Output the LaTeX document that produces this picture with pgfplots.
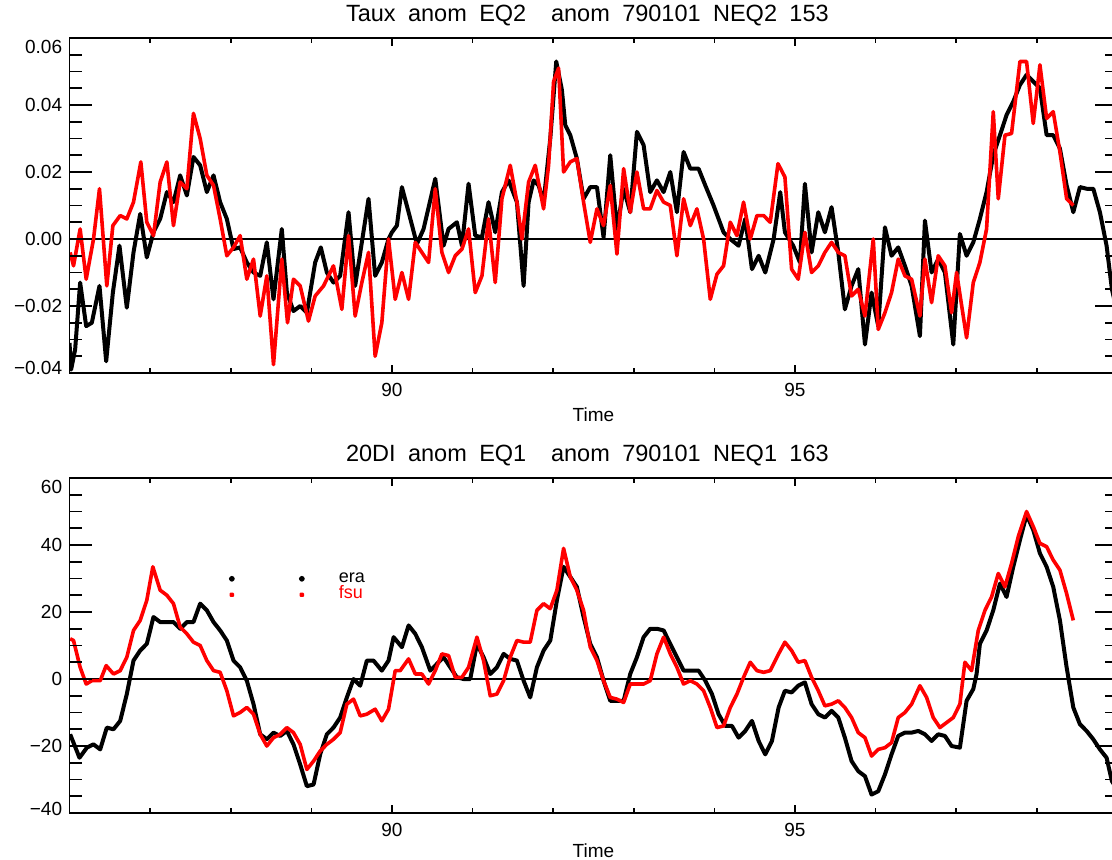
\documentclass[border=0pt]{standalone}
\usepackage{fontspec}
\setmainfont{Liberation Sans}
\newfontfamily\titlefont[WordSpace=1.9]{Liberation Sans}
\usepackage{pgfplots}
\pgfplotsset{compat=1.18}
\newcommand\tickfont{\fontsize{9.5}{11}\selectfont}
\pgfplotsset{
 base/.style={scale only axis, width=523.9pt, height=167.5pt, xmin=86, xmax=99,
   anchor=south west, tick align=inside, axis line style={line width=0.8pt},
   scaled ticks=false, scaled y ticks=false,
   tick style={black, line width=0.8pt}},
 xaxis/.style={base, ytick=\empty, xtick={90,95}, xticklabels={90,95},
   minor xtick={86,87,88,89,91,92,93,94,96,97,98},
   major tick length=4pt, minor tick length=2.5pt,
   xticklabel style={font=\tickfont, anchor=north, inner sep=0pt, yshift=-5pt},
   xlabel={Time},
   title style={font=\titlefont\fontsize{11.75}{14}\selectfont, at={(axis description cs:0.5,1)}, anchor=base, inner sep=0pt, yshift=2.5pt, xshift=-3pt}},
 yaxis/.style={base, xtick=\empty, major tick length=11pt, minor tick length=6pt,
   yticklabel style={font=\tickfont, anchor=base east, inner sep=0pt, xshift=-3.5pt, yshift=-3.4pt}},
 blk/.style={black, line width=2pt, line join=round},
 rd/.style={color=red, line width=1.8pt, line join=round},
}
\begin{document}
\begin{tikzpicture}
% ---------------- top panel ----------------
\begin{axis}[xaxis, at={(34.75pt,243pt)}, ymin=-0.04, ymax=0.06,
  xlabel style={font=\tickfont, at={(axis description cs:0.5,0)}, anchor=north, inner sep=0pt, yshift=-17pt},
  title={Taux anom EQ2\ \ anom 790101 NEQ2 153}]
\addplot[black, line width=0.8pt, forget plot] coordinates {(86,0) (99,0)};
\addplot[blk] coordinates {
(86.000,-0.031)(86.020,-0.039)(86.070,-0.033)(86.132,-0.013)(86.207,-0.026)(86.277,-0.025)(86.372,-0.014)(86.455,-0.0365)(86.538,-0.016)(86.620,-0.002)(86.711,-0.0205)(86.794,-0.004)(86.877,0.0075)(86.959,-0.0055)(87.042,0.002)(87.125,0.006)(87.208,0.014)(87.290,0.011)(87.373,0.019)(87.456,0.013)(87.538,0.0245)(87.621,0.022)(87.704,0.014)(87.787,0.019)(87.869,0.011)(87.952,0.006)(88.035,-0.003)(88.117,-0.0025)(88.200,-0.007)(88.283,-0.010)(88.366,-0.011)(88.448,-0.001)(88.531,-0.018)(88.634,0.003)(88.697,-0.016)(88.779,-0.0215)(88.862,-0.020)(88.945,-0.022)(89.048,-0.007)(89.118,-0.0025)(89.193,-0.010)(89.275,-0.013)(89.358,-0.011)(89.462,0.008)(89.544,-0.014)(89.627,-0.001)(89.710,0.012)(89.792,-0.011)(89.875,-0.007)(89.958,0.000)
(90.000,0.002)(90.062,0.004)(90.124,0.0155)(90.207,0.008)(90.310,-0.0015)(90.393,0.003)(90.538,0.018)(90.641,-0.002)(90.703,0.003)(90.806,0.005)(90.869,-0.002)(90.951,0.0165)(91.034,0.001)(91.117,0.0005)(91.199,0.011)(91.282,0.002)(91.365,0.014)(91.448,0.0175)(91.551,0.011)(91.634,-0.014)(91.696,0.011)(91.758,0.0175)(91.820,0.016)(91.882,0.011)(91.965,0.030)(92.039,0.053)(92.109,0.0445)(92.151,0.034)(92.213,0.031)(92.295,0.024)(92.378,0.012)(92.461,0.0155)(92.544,0.0155)(92.626,0.0005)(92.709,0.025)(92.792,0.003)(92.875,0.015)(92.957,0.008)(93.040,0.032)(93.123,0.028)(93.205,0.014)(93.288,0.0175)(93.371,0.014)(93.454,0.020)(93.536,0.008)(93.619,0.026)(93.702,0.021)(93.805,0.021)(93.888,0.016)(93.991,0.010)(94.115,0.002)(94.198,0.000)(94.301,-0.002)(94.384,0.006)(94.467,-0.009)(94.550,-0.005)(94.632,-0.010)(94.736,0.000)(94.818,0.014)
(94.876,0.002)(94.979,-0.002)(95.062,-0.007)(95.124,0.0165)(95.207,-0.004)(95.290,0.008)(95.372,0.002)(95.455,0.0095)(95.538,-0.004)(95.620,-0.021)(95.703,-0.014)(95.786,-0.009)(95.869,-0.0315)(95.951,-0.016)(96.034,-0.026)(96.117,0.0035)(96.199,-0.005)(96.282,-0.0025)(96.365,-0.008)(96.448,-0.014)(96.551,-0.029)(96.613,0.0055)(96.696,-0.010)(96.778,-0.006)(96.861,-0.010)(96.965,-0.0315)(97.047,0.0015)(97.130,-0.005)(97.213,-0.001)(97.295,0.006)(97.378,0.014)(97.461,0.025)(97.544,0.031)(97.626,0.037)(97.709,0.041)(97.792,0.046)(97.874,0.049)(97.957,0.047)(98.040,0.045)(98.123,0.031)(98.205,0.031)(98.288,0.027)(98.371,0.016)(98.454,0.008)(98.536,0.0155)(98.619,0.015)(98.702,0.015)(98.784,0.008)(98.867,-0.002)(98.933,-0.015)(99.000,-0.022)
};
\addplot[rd] coordinates {
(86.008,-0.004)(86.050,-0.008)(86.132,0.003)(86.207,-0.012)(86.298,0.000)(86.372,0.015)(86.463,-0.014)(86.538,0.004)(86.629,0.007)(86.711,0.006)(86.794,0.011)(86.885,0.023)(86.959,0.005)(87.042,0.001)(87.125,0.017)(87.208,0.023)(87.290,0.004)(87.373,0.017)(87.456,0.015)(87.538,0.0375)(87.621,0.030)(87.704,0.019)(87.787,0.016)(87.869,0.006)(87.952,-0.005)(88.035,-0.0025)(88.117,0.001)(88.200,-0.012)(88.283,-0.006)(88.366,-0.023)(88.448,-0.011)(88.531,-0.0375)(88.634,-0.006)(88.705,-0.025)(88.779,-0.012)(88.862,-0.014)(88.965,-0.0245)(89.048,-0.017)(89.152,-0.014)(89.275,-0.008)(89.379,-0.021)(89.462,0.001)(89.544,-0.023)(89.627,-0.013)(89.710,-0.004)(89.792,-0.035)(89.875,-0.025)(89.958,0.000)
(90.041,-0.018)(90.124,-0.010)(90.207,-0.018)(90.290,-0.001)(90.372,-0.004)(90.455,-0.007)(90.538,0.015)(90.620,-0.004)(90.703,-0.010)(90.786,-0.005)(90.869,-0.003)(90.951,0.003)(91.034,-0.016)(91.117,-0.011)(91.199,0.006)(91.282,-0.013)(91.365,0.012)(91.468,0.022)(91.551,0.011)(91.613,0.000)(91.696,0.017)(91.778,0.022)(91.882,0.009)(91.944,0.022)(92.006,0.047)(92.068,0.051)(92.130,0.020)(92.213,0.023)(92.295,0.024)(92.378,0.011)(92.461,-0.001)(92.544,0.009)(92.626,0.004)(92.709,0.016)(92.792,-0.0045)(92.875,0.021)(92.957,0.008)(93.040,0.020)(93.123,0.009)(93.205,0.009)(93.288,0.0145)(93.371,0.011)(93.454,0.010)(93.536,-0.005)(93.619,0.012)(93.702,0.004)(93.784,0.009)(93.867,0.000)(93.950,-0.018)(94.033,-0.0105)(94.115,-0.008)(94.198,0.005)(94.281,0.001)(94.363,0.011)(94.446,0.000)(94.529,0.007)(94.612,0.007)(94.694,0.005)(94.790,0.0225)
(94.876,0.0185)(94.959,-0.009)(95.041,-0.012)(95.124,0.002)(95.207,-0.010)(95.290,-0.008)(95.372,-0.004)(95.455,-0.001)(95.538,-0.004)(95.620,-0.005)(95.703,-0.017)(95.786,-0.015)(95.869,-0.023)(95.972,0.000)(96.034,-0.027)(96.117,-0.022)(96.199,-0.016)(96.282,-0.006)(96.365,-0.011)(96.448,-0.012)(96.551,-0.023)(96.613,-0.006)(96.696,-0.019)(96.778,-0.005)(96.861,-0.008)(96.944,-0.022)(97.006,-0.010)(97.130,-0.0295)(97.213,-0.013)(97.295,-0.007)(97.378,0.003)(97.461,0.038)(97.523,0.012)(97.606,0.031)(97.688,0.0315)(97.792,0.053)(97.874,0.053)(97.957,0.0345)(98.040,0.052)(98.123,0.036)(98.205,0.038)(98.288,0.026)(98.371,0.012)(98.454,0.010)
};
\end{axis}
\begin{axis}[yaxis, at={(34.75pt,243pt)}, ymin=-0.04, ymax=0.06,
  ytick={-0.04,-0.02,0,0.02,0.04,0.06},
  yticklabels={\raisebox{2.5pt}{−0.04},−0.02,0.00,0.02,0.04,\raisebox{-4.3pt}{0.06}},
  minor ytick={-0.035,-0.03,-0.025,-0.015,-0.01,-0.005,0.005,0.01,0.015,0.025,0.03,0.035,0.045,0.05,0.055}]
\end{axis}
% ---------------- bottom panel ----------------
\begin{axis}[xaxis, at={(34.75pt,23pt)}, ymin=-40, ymax=60,
  xlabel style={font=\tickfont, at={(axis description cs:0.5,0)}, anchor=north, inner sep=0pt, yshift=-15pt},
  title={20DI anom EQ1\ \ anom 790101 NEQ1 163},
  legend style={draw=none, fill=none, inner sep=0pt, at={(axis description cs:0.1518,0.7242)}, anchor=north west,
    font=\fontsize{9}{10}\selectfont, row sep=0pt, column sep=0pt,
    nodes={inner sep=0pt, text height=6pt, text depth=2pt}},
  legend cell align=left,
  legend image code/.code={\fill (0pt,0pt) circle (0.45pt); \fill (35pt,0pt) circle (0.45pt); \path (52.5pt,0pt);}]
\addplot[black, line width=0.8pt, forget plot] coordinates {(86,0) (99,0)};
\addplot[blk] coordinates {
(86.008,-16.5)(86.124,-23.5)(86.215,-20.5)(86.298,-19.5)(86.381,-21)(86.463,-14.5)(86.546,-15)(86.629,-12.5)(86.711,-4.5)(86.794,5.5)(86.877,8.5)(86.959,10.5)(87.042,18.5)(87.125,17)(87.208,17)(87.290,17)(87.373,15)(87.456,17)(87.538,17)(87.621,22.5)(87.704,20.5)(87.787,17)(87.869,14.5)(87.952,11.5)(88.035,5.5)(88.117,3.5)(88.200,-0.5)(88.283,-7.5)(88.366,-16.5)(88.448,-18)(88.531,-16)(88.614,-17)(88.697,-15.5)(88.779,-19.5)(88.862,-25.5)(88.945,-32)(89.028,-31.5)(89.110,-22.5)(89.193,-16.5)(89.275,-14.5)(89.358,-11.5)(89.441,-5.5)(89.524,0)(89.607,-2)(89.689,5.5)(89.772,5.5)(89.875,2.5)(89.958,5.5)(90.021,12.5)
(90.124,9.5)(90.207,16)(90.290,13.5)(90.372,9.5)(90.476,2.5)(90.558,4.5)(90.641,6.5)(90.724,3.5)(90.806,0.5)(90.889,0)(90.972,0)(91.055,10.5)(91.137,6.5)(91.220,1.5)(91.303,3.5)(91.386,7.5)(91.468,6)(91.551,5.5)(91.634,-0.5)(91.716,-5.5)(91.799,3.5)(91.882,8.5)(91.965,11.5)(92.047,23.5)(92.130,33.5)(92.213,30.5)(92.295,27.5)(92.378,18.5)(92.461,10.5)(92.544,6.5)(92.626,-0.5)(92.709,-6.5)(92.792,-6.5)(92.875,-6.5)(92.957,1.5)(93.040,6.5)(93.123,12.5)(93.205,15)(93.288,15)(93.371,14.5)(93.454,10.5)(93.536,6.5)(93.619,2.5)(93.702,2.5)(93.805,2.5)(93.888,-0.5)(93.971,-4.5)(94.053,-10.5)(94.136,-14)(94.219,-14)(94.301,-17.5)(94.384,-15.5)(94.467,-12.5)(94.550,-18.5)(94.632,-22.5)(94.715,-18.5)(94.798,-8.5)
(94.876,-3.5)(94.959,-4)(95.041,-2)(95.124,-1)(95.207,-7.5)(95.290,-10.5)(95.372,-11.5)(95.455,-9.5)(95.538,-11.5)(95.620,-17.5)(95.703,-24.5)(95.786,-27.5)(95.869,-29)(95.951,-34.5)(96.034,-33.5)(96.117,-28.5)(96.199,-22.5)(96.282,-17)(96.365,-16)(96.448,-16)(96.530,-15.5)(96.613,-16.5)(96.696,-18.5)(96.778,-16.5)(96.861,-17)(96.944,-20)(97.047,-20.5)(97.130,-6.5)(97.213,-3)(97.254,1.5)(97.295,10.5)(97.378,14.5)(97.461,20.5)(97.544,28.5)(97.626,24.5)(97.709,33.5)(97.792,41.5)(97.874,49)(97.957,44.5)(98.040,37.5)(98.123,33.5)(98.205,27.5)(98.288,17.5)(98.371,3.5)(98.454,-8.5)(98.536,-13.5)(98.619,-15.5)(98.702,-18)(98.784,-21)(98.867,-23.5)(98.933,-30.5)(99.000,-33)
};
\addplot[rd] coordinates {
(86.008,12)(86.050,11.5)(86.132,3.5)(86.207,-1.5)(86.277,-0.5)(86.381,-0.5)(86.455,4)(86.546,1.5)(86.629,2.5)(86.711,6.5)(86.794,14.5)(86.877,17.5)(86.959,23.5)(87.034,33.5)(87.125,26.5)(87.208,25)(87.290,22.5)(87.373,15.5)(87.456,13.5)(87.538,11)(87.621,10)(87.704,5.5)(87.787,2.5)(87.869,2)(87.952,-3.5)(88.035,-11)(88.117,-10)(88.200,-8.5)(88.283,-10.5)(88.366,-16.5)(88.448,-20)(88.531,-17.5)(88.614,-16.5)(88.697,-14.5)(88.779,-16)(88.862,-19.5)(88.945,-27)(89.028,-24.5)(89.110,-21.5)(89.193,-19.5)(89.275,-18)(89.358,-16)(89.441,-7.5)(89.524,-6)(89.607,-11)(89.689,-10.5)(89.792,-9)(89.875,-12.5)(89.958,-9)(90.041,2.5)
(90.103,2.5)(90.207,6)(90.290,1.5)(90.372,1.5)(90.455,-1.5)(90.538,2.5)(90.620,7.5)(90.703,7)(90.786,0.5)(90.869,0.5)(90.951,3.5)(91.055,12.5)(91.137,5.5)(91.220,-5)(91.303,-4.5)(91.386,-0.5)(91.468,6.5)(91.551,11.5)(91.634,11)(91.716,11)(91.799,20.5)(91.882,22.5)(91.965,21)(92.047,26.5)(92.130,39)(92.213,30.5)(92.295,26.5)(92.378,20.5)(92.461,9.5)(92.544,5.5)(92.626,-0.5)(92.709,-5.5)(92.792,-6)(92.875,-7)(92.957,-1.5)(93.040,-1.5)(93.123,-1.5)(93.205,-0.5)(93.288,7.5)(93.371,12.5)(93.454,7.5)(93.536,3.5)(93.619,-1.5)(93.702,-0.5)(93.784,-1.5)(93.867,-3.5)(93.950,-8.5)(94.033,-14.5)(94.115,-14)(94.198,-8.5)(94.281,-4.5)(94.363,0.5)(94.446,5)(94.529,2.5)(94.612,2)(94.694,2.5)(94.798,7.5)
(94.876,11)(94.959,8.5)(95.041,5)(95.124,5.5)(95.207,0.5)(95.290,-3.5)(95.372,-8)(95.455,-7.5)(95.538,-6.5)(95.620,-8.5)(95.703,-11.5)(95.786,-16)(95.869,-17.5)(95.951,-23)(96.034,-21)(96.117,-20.5)(96.199,-19)(96.282,-11.5)(96.365,-10)(96.448,-7.5)(96.551,-2)(96.634,-5.5)(96.716,-11.5)(96.799,-14.5)(96.882,-13)(96.965,-11.5)(97.047,-7.5)(97.109,5)(97.192,2.5)(97.275,14.5)(97.358,20.5)(97.440,24.5)(97.523,31.5)(97.606,27.5)(97.688,34.5)(97.771,42.5)(97.874,50)(97.957,45.5)(98.040,40.5)(98.123,39.5)(98.205,35.5)(98.288,32.5)(98.371,25.5)(98.454,17.5)
};
\legend{era,\textcolor{red}{fsu}}
\end{axis}
\begin{axis}[yaxis, at={(34.75pt,23pt)}, ymin=-40, ymax=60,
  ytick={-40,-20,0,20,40,60},
  yticklabels={\raisebox{2.2pt}{−40},−20,0,20,40,\raisebox{-4.2pt}{60}},
  minor ytick={-35,-30,-25,-15,-10,-5,5,10,15,25,30,35,45,50,55}]
\end{axis}
\pgfresetboundingbox
\useasboundingbox (0,0) rectangle (556pt,429.5pt);
\end{tikzpicture}
\end{document}
